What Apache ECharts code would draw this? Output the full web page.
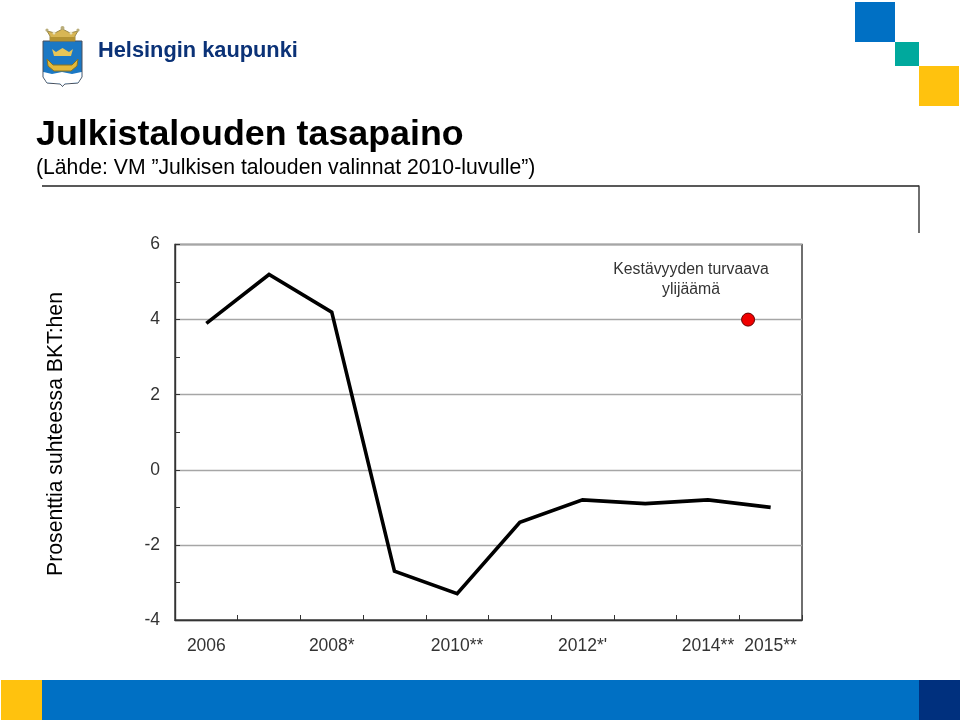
<!DOCTYPE html>
<html><head><meta charset="utf-8">
<style>html,body{margin:0;padding:0;background:#fff}#c{width:960px;height:720px}</style>
<script src="https://cdn.jsdelivr.net/npm/echarts@6/dist/echarts.min.js"></script>
</head><body><div id="c"></div>
<script>
const categories = ['2006','2007','2008*','2009','2010**','2011',"2012*'",'2013','2014**','2015**'];
const labelledCategories = ['2006','2008*','2010**',"2012*'",'2014**','2015**'];
const balance = [3.9,5.2,4.2,-2.7,-3.3,-1.4,-0.8,-0.9,-0.8,-1.0];
const surplusPoint = [8.64,4];
const surplusLabel = 'Kestävyyden turvaava\nylijäämä';
const titleText = 'Julkistalouden tasapaino';
const subtitleText = '(Lähde: VM ”Julkisen talouden valinnat 2010-luvulle”)';
const yAxisTitle = 'Prosenttia suhteessa BKT:hen';
const orgName = 'Helsingin kaupunki';

const FONT = '"Liberation Sans", Arial, sans-serif';
const rect = (x,y,width,height,fill,z=1)=>({type:'rect',silent:true,z,shape:{x,y,width,height},style:{fill}});
const poly = (points,fill,stroke,z=3)=>({type:'polygon',silent:true,z,shape:{points},style:{fill,stroke:stroke||null,lineWidth:stroke?1:0}});
const dot = (cx,cy,r,fill)=>({type:'circle',silent:true,z:4,shape:{cx,cy,r},style:{fill}});
const text = (x,y,t,font,fill,extra={})=>({type:'text',silent:true,z:5,x,y,style:Object.assign({text:t,font,fill,textVerticalAlign:'middle'},extra)});
const line = (x1,y1,x2,y2,stroke,lineWidth)=>({type:'line',silent:true,z:2,shape:{x1,y1,x2,y2},style:{stroke,lineWidth}});

const gold='#d8b654', shieldBlue='#1b78c4';
const graphics = [
  rect(855,2,40,40,'#0070c4'), rect(895,42,24,24,'#00a99d'), rect(919,66,40,40,'#ffc20e'),
  rect(1,680,41,40,'#ffc20e'), rect(42,680,877,40,'#0070c4'), rect(919,680,41,40,'#00307e'),
  line(42,186,919,186,'#222',1.4), line(919,185.5,919,233,'#333',1.4),
  // coat of arms
  poly([[43,41],[82,41],[82,77],[78,83],[65,84],[62.5,86.5],[60,84],[47,83],[43,77]],shieldBlue,'#4a4f5a'),
  poly([[43.5,72],[52,74],[62,72],[72,74],[81.5,72],[81.5,77],[78,82.5],[65,83.5],[62.5,86],[60,83.5],[47,82.5],[43.5,77]],'#fff'),
  poly([[47,59],[53,65],[72,65],[78,59],[77,66],[71,71],[54,71],[48,66]],'#e3b93c','#8a7420'),
  poly([[52,49],[56,52],[62.5,48],[69,52],[73,49],[71,56],[54,56]],'#e6c557'),
  poly([[50,36],[47,31],[55,33],[62.5,29],[70,33],[78,31],[75,36],[75,41],[50,41]],gold,'#9c8a4a'),
  dot(47,30,1.6,'#b9ad7a'), dot(78,30,1.6,'#b9ad7a'), dot(62.5,28,2,'#b9ad7a'),
  dot(54,33,1.5,'#e9e3c4'), dot(71,33,1.5,'#e9e3c4'),
  rect(50,37,25,4,'#b39232',4),
  text(98,51,orgName,'bold 21.8px '+FONT,'#0b3277'),
  text(36,135,titleText,'bold 35.8px '+FONT,'#000'),
  text(36,168,subtitleText,'21.2px '+FONT,'#000'),
  {type:'text',silent:true,z:5,x:56,y:434,rotation:Math.PI/2,
   style:{text:yAxisTitle,font:'21.2px '+FONT,fill:'#000',textAlign:'center',textVerticalAlign:'middle'}},
  {type:'text',silent:true,z:5,x:691,y:280,
   style:{text:surplusLabel,font:'15.8px '+FONT,fill:'#333',textAlign:'center',textVerticalAlign:'middle',lineHeight:20}}
];

const chart = echarts.init(document.getElementById('c'),null,{renderer:'canvas'});
chart.setOption({
  animation:false,
  backgroundColor:'#fff',
  textStyle:{fontFamily:FONT},
  graphic:graphics,
  grid:{left:175,top:244.5,width:627,height:375.5,show:true,borderColor:'#333',borderWidth:1.4,backgroundColor:'transparent',containLabel:false},
  xAxis:[
    {type:'category',data:categories,boundaryGap:true,
     axisLine:{onZero:false,lineStyle:{color:'#333',width:1.4}},
     axisTick:{show:true,interval:0,inside:true,length:5,alignWithLabel:false,lineStyle:{color:'#333',width:1}},
     axisLabel:{margin:17,fontSize:17.5,color:'#333',fontFamily:FONT,hideOverlap:false,
       interval:(i,v)=>labelledCategories.includes(v)},
     splitLine:{show:false}},
    {type:'value',min:-0.5,max:9.5,show:false,splitLine:{show:false}}
  ],
  yAxis:{type:'value',min:-4,max:6,interval:2,
    axisLine:{show:true,onZero:false,lineStyle:{color:'#333',width:1.4}},
    axisTick:{show:true,inside:true,length:5,lineStyle:{color:'#333'}},
    minorTick:{show:true,splitNumber:2,length:5,lineStyle:{color:'#333'}},
    axisLabel:{margin:15,fontSize:17.5,color:'#333',fontFamily:FONT},
    splitLine:{show:true,lineStyle:{color:'#a6a6a6',width:1.4}}},
  series:[
    {type:'line',data:balance,xAxisIndex:0,symbol:'none',z:4,
     lineStyle:{color:'#000',width:3.6,join:'miter'}},
    {type:'scatter',data:[surplusPoint],xAxisIndex:1,symbol:'circle',symbolSize:13,z:5,
     itemStyle:{color:'#f00000',borderColor:'#660000',borderWidth:1,opacity:1},
     label:{show:false}}
  ]
});
</script></body></html>
